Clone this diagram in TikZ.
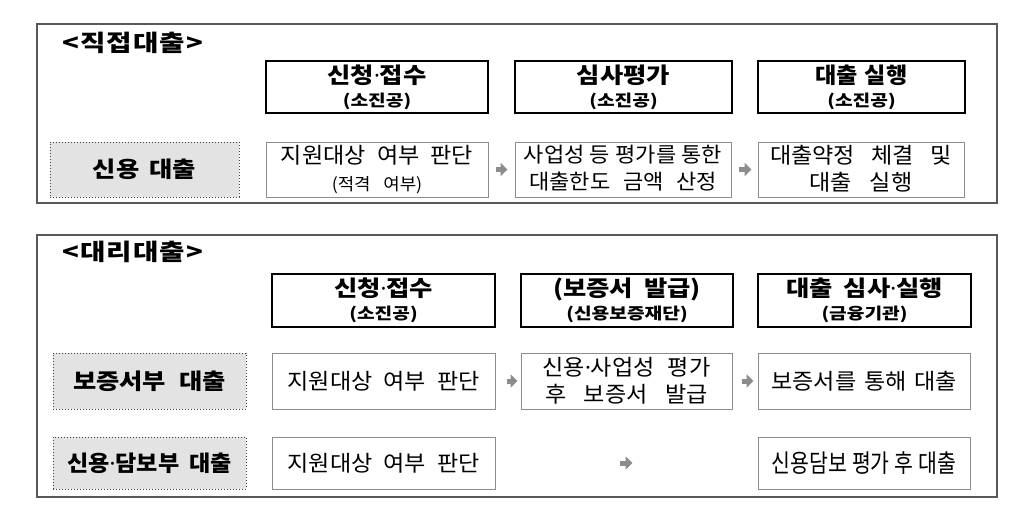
\documentclass[tikz,border=0pt]{standalone}
\usepackage{fontspec}
\setmainfont{Noto Sans CJK KR}
\newfontfamily\wideA[FakeStretch=1.15]{Noto Sans CJK KR}
\newfontfamily\wideS[FakeStretch=1.2]{Noto Sans CJK KR}
\newfontfamily\wideB[FakeStretch=1.05]{Noto Sans CJK KR}
\newfontfamily\narrowC[FakeStretch=0.82]{Noto Sans CJK KR}
\newfontfamily\dotfont{Noto Sans}
\usetikzlibrary{arrows.meta}
\newcommand\mdot{{\dotfont ·}}
\newcommand\lowstrut{\rule[-4pt]{0pt}{1pt}}
\newcommand\hbig{\wideA\fontsize{22}{23}\selectfont\bfseries\spaceskip=0.5em\relax}
\newcommand\hsmall{\wideS\fontsize{16}{23}\selectfont\bfseries}
\newcommand\rbig{\fontsize{22}{27}\selectfont\spaceskip=0.5em\relax}
\newcommand\rsmall{\fontsize{17}{27}\selectfont\spaceskip=0.75em\relax}
\begin{document}
\begin{tikzpicture}[x=1pt,y=-1pt,
  panel/.style={draw=black!65, line width=1.3pt, inner sep=0pt},
  head/.style={draw=black, line width=2.2pt, inner sep=0pt, align=center,
    font={\wideA\fontsize{16}{23}\selectfont}},
  rowbox/.style={draw=black!45, line width=1pt, inner sep=0pt, align=center,
    font={\wideB\fontsize{22}{27}\selectfont}},
  lab/.style={draw=black!75, dotted, line width=1pt, fill=black!11, inner sep=0pt,
    font={\wideA\fontsize{22}{24}\selectfont\bfseries}},
  ttl/.style={anchor=west, inner sep=0pt,
    font={\wideS\fontsize{23}{26}\selectfont\bfseries\addfontfeature{LetterSpace=5}}},
  flow/.style={draw=black!45, line width=5pt, -{Triangle[length=7pt,width=13pt]}}
]
\useasboundingbox (0,0) rectangle (1024,524);
\fill[white] (0,0) rectangle (1024,524);

% ---------- top panel ----------
\node[panel, minimum width=960pt, minimum height=179pt] (p1) at (517,113.5) {};
\node[ttl] (t1) at (62,43) {<직접대출>};

\node[head, minimum width=222pt, minimum height=52pt] (h11) at (377,87)
  {{\hbig 신청\mdot 접수}\\{\hsmall (소진공)}};
\node[head, minimum width=217pt, minimum height=52pt] (h12) at (623.5,87)
  {{\hbig 심사평가}\\{\hsmall (소진공)}};
\node[head, minimum width=207pt, minimum height=52pt] (h13) at (861.5,87)
  {{\hbig\wideB\spaceskip=0.3em\relax 대출 실행}\\{\hsmall (소진공)}};

\node[lab, minimum width=189pt, minimum height=55pt] (l1) at (144.5,169.5)
  {\spaceskip=0.45em\relax 신용 대출};
\node[rowbox, minimum width=222pt, minimum height=55pt] (b11) at (377,169.5)
  {{\rbig 지원대상 여부 판단}\\{\rsmall (적격 여부)\lowstrut}};
\node[rowbox, minimum width=216pt, minimum height=55pt, font={\wideB\fontsize{21}{27}\selectfont}] (b12) at (623,169.5)
  {{\fontsize{21}{27}\selectfont\spaceskip=0.25em\relax 사업성 등 평가를 통한}\\{\fontsize{21}{27}\selectfont\spaceskip=0.6em\relax 대출한도 금액 산정\lowstrut}};
\node[rowbox, minimum width=206pt, minimum height=55pt] (b13) at (861,169.5)
  {{\rbig\spaceskip=0.75em\relax 대출약정 체결 및}\\{\rbig\spaceskip=0.8em\relax 대출 실행\lowstrut}};

\draw[flow, shorten <=7pt, shorten >=7pt] (b11) -- (b12);
\draw[flow, shorten <=7pt, shorten >=6pt] (b12) -- (b13);

% ---------- bottom panel ----------
\node[panel, minimum width=960pt, minimum height=262pt] (p2) at (517,366) {};
\node[ttl] (t2) at (62,252) {<대리대출>};

\node[head, minimum width=223pt, minimum height=53pt] (h21) at (383.5,300.5)
  {{\hbig 신청\mdot 접수}\\{\hsmall (소진공)}};
\node[head, minimum width=212pt, minimum height=53pt] (h22) at (627,300.5)
  {{\hbig (보증서 발급)}\\{\hsmall (신용보증재단)}};
\node[head, minimum width=213pt, minimum height=53pt] (h23) at (864.5,300.5)
  {{\hbig 대출 심사\mdot 실행}\\{\hsmall (금융기관)}};

\node[lab, minimum width=193pt, minimum height=56pt] (l2) at (149.5,381)
  {\spaceskip=0.6em\relax 보증서부 대출};
\node[rowbox, minimum width=223pt, minimum height=56pt] (b21) at (383.5,381)
  {\rbig 지원대상 여부 판단};
\node[rowbox, minimum width=211pt, minimum height=56pt] (b22) at (626.5,381)
  {{\rbig\spaceskip=0.6em\relax 신용\mdot 사업성 평가}\\{\rbig\spaceskip=0.8em\relax 후 보증서 발급}};
\node[rowbox, minimum width=212pt, minimum height=56pt] (b23) at (864,381)
  {\rbig\spaceskip=0.35em\relax 보증서를 통해 대출};

\node[lab, minimum width=193pt, minimum height=52pt] (l3) at (149.5,463)
  {\wideB\spaceskip=0.45em\relax 신용\mdot 담보부 대출};
\node[rowbox, minimum width=223pt, minimum height=52pt] (c21) at (383.5,463)
  {\rbig 지원대상 여부 판단};
\node[rowbox, minimum width=212pt, minimum height=52pt] (c23) at (864,463)
  {\narrowC\fontsize{25}{28}\selectfont\spaceskip=0.2em\relax 신용담보 평가 후 대출};

\draw[flow, shorten <=11pt, shorten >=3pt] (b21) -- (b22);
\draw[flow, shorten <=9pt, shorten >=4pt] (b22) -- (b23);
\draw[flow, shorten <=124pt, shorten >=125pt] (c21) -- (c23);
\end{tikzpicture}
\end{document}
